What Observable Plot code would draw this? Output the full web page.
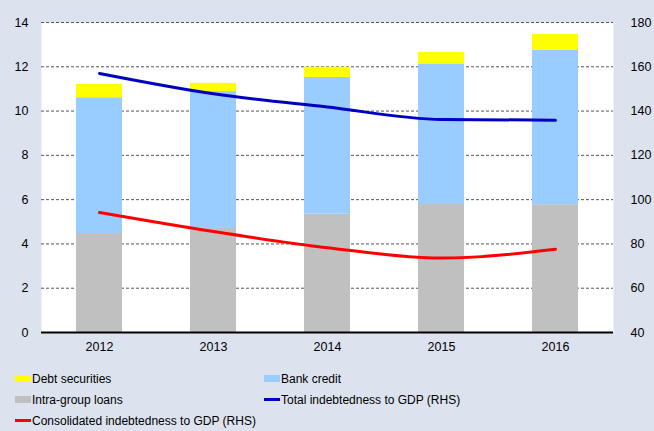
<!DOCTYPE html>
<html>
<head>
<meta charset="utf-8">
<script src="https://cdn.jsdelivr.net/npm/d3@7"></script>
<script src="https://cdn.jsdelivr.net/npm/@observablehq/plot@0.6"></script>
<style>
  html, body { margin: 0; padding: 0; background: #dce3ef; }
  body { width: 654px; height: 431px; overflow: hidden; font-family: "Liberation Sans", Arial, sans-serif; }
  #legend { display: grid; grid-template-columns: 249px auto; padding-left: 15px; padding-top: 6px; font-size: 12px; color: #000; }
  .item { display: flex; align-items: center; height: 21px; white-space: nowrap; }
  .sw { width: 16px; height: 7px; margin-right: 1px; }
  .ln { width: 16px; height: 3px; margin-right: 1px; }
</style>
</head>
<body>
<div id="chart"></div>
<div id="legend"></div>
<script>
const years = ["2012", "2013", "2014", "2015", "2016"];
const intraGroupLoans = [4.47, 4.70, 5.34, 5.78, 5.77];
const bankCredit = [6.13, 6.18, 6.18, 6.35, 6.98];
const debtSecurities = [0.60, 0.37, 0.46, 0.52, 0.71];
const totalIndebtedness = [157.0, 147.8, 141.8, 136.2, 135.9];
const consolidatedIndebtedness = [94.2, 85.6, 78.3, 73.6, 77.6];
const leftTicks = [0, 2, 4, 6, 8, 10, 12, 14];
const rightTicks = [40, 60, 80, 100, 120, 140, 160, 180];

const seriesNames = ["Intra-group loans", "Bank credit", "Debt securities"];
const seriesColors = ["#c0c0c0", "#99ccff", "#ffff00"];
const seriesValues = [intraGroupLoans, bankCredit, debtSecurities];

const barData = [];
seriesNames.forEach((s, i) => years.forEach((y, j) => barData.push({year: y, series: s, value: seriesValues[i][j]})));

// right axis 40..180 maps onto left 0..14
const toLeft = v => (v - 40) / 10;
const totalData = years.map((y, i) => ({year: y, v: toLeft(totalIndebtedness[i])}));
const consData = years.map((y, i) => ({year: y, v: toLeft(consolidatedIndebtedness[i])}));

const chart = Plot.plot({
  width: 654,
  height: 362,
  marginLeft: 41,
  marginRight: 41,
  marginTop: 22,
  marginBottom: 30,
  style: {fontFamily: "Liberation Sans, Arial, sans-serif", fontSize: "12px", background: "transparent", color: "#000"},
  x: {domain: years, paddingInner: 0.6, paddingOuter: 0.3, label: null},
  y: {domain: [0, 14], label: null},
  color: {domain: seriesNames, range: seriesColors},
  marks: [
    Plot.frame({fill: "white", stroke: "none"}),
    Plot.gridY(leftTicks.filter(d => d > 0), {stroke: "#555", strokeOpacity: 1, strokeDasharray: "3,2"}),
    Plot.barY(barData, {x: "year", y: "value", fill: "series", order: seriesNames}),
    Plot.ruleY([0], {stroke: "#000", strokeWidth: 2}),
    Plot.line(totalData, {x: "year", y: "v", stroke: "#0000c0", strokeWidth: 3, curve: "monotone-x"}),
    Plot.line(consData, {x: "year", y: "v", stroke: "#ff0000", strokeWidth: 3, curve: "monotone-x"}),
    Plot.axisY(leftTicks, {anchor: "left", tickSize: 0, tickPadding: 13, label: null, fontSize: 12.5}),
    Plot.axisY(rightTicks.map(toLeft), {anchor: "right", tickSize: 0, tickPadding: 17, textAnchor: "start", label: null, tickFormat: d => String(Math.round(d * 10 + 40)), fontSize: 12.5}),
    Plot.axisX({tickSize: 0, tickPadding: 10, label: null, fontSize: 12.5})
  ]
});
document.getElementById("chart").appendChild(chart);

const legendItems = [
  {label: "Debt securities", color: "#ffff00", type: "sw"},
  {label: "Bank credit", color: "#99ccff", type: "sw"},
  {label: "Intra-group loans", color: "#c0c0c0", type: "sw"},
  {label: "Total indebtedness to GDP (RHS)", color: "#0000c0", type: "ln"},
  {label: "Consolidated indebtedness to GDP (RHS)", color: "#ff0000", type: "ln"}
];
const lg = document.getElementById("legend");
legendItems.forEach(it => {
  const d = document.createElement("div");
  d.className = "item";
  const s = document.createElement("span");
  s.className = it.type;
  s.style.background = it.color;
  d.appendChild(s);
  const t = document.createElement("span");
  t.textContent = it.label;
  d.appendChild(t);
  lg.appendChild(d);
});
</script>
</body>
</html>
